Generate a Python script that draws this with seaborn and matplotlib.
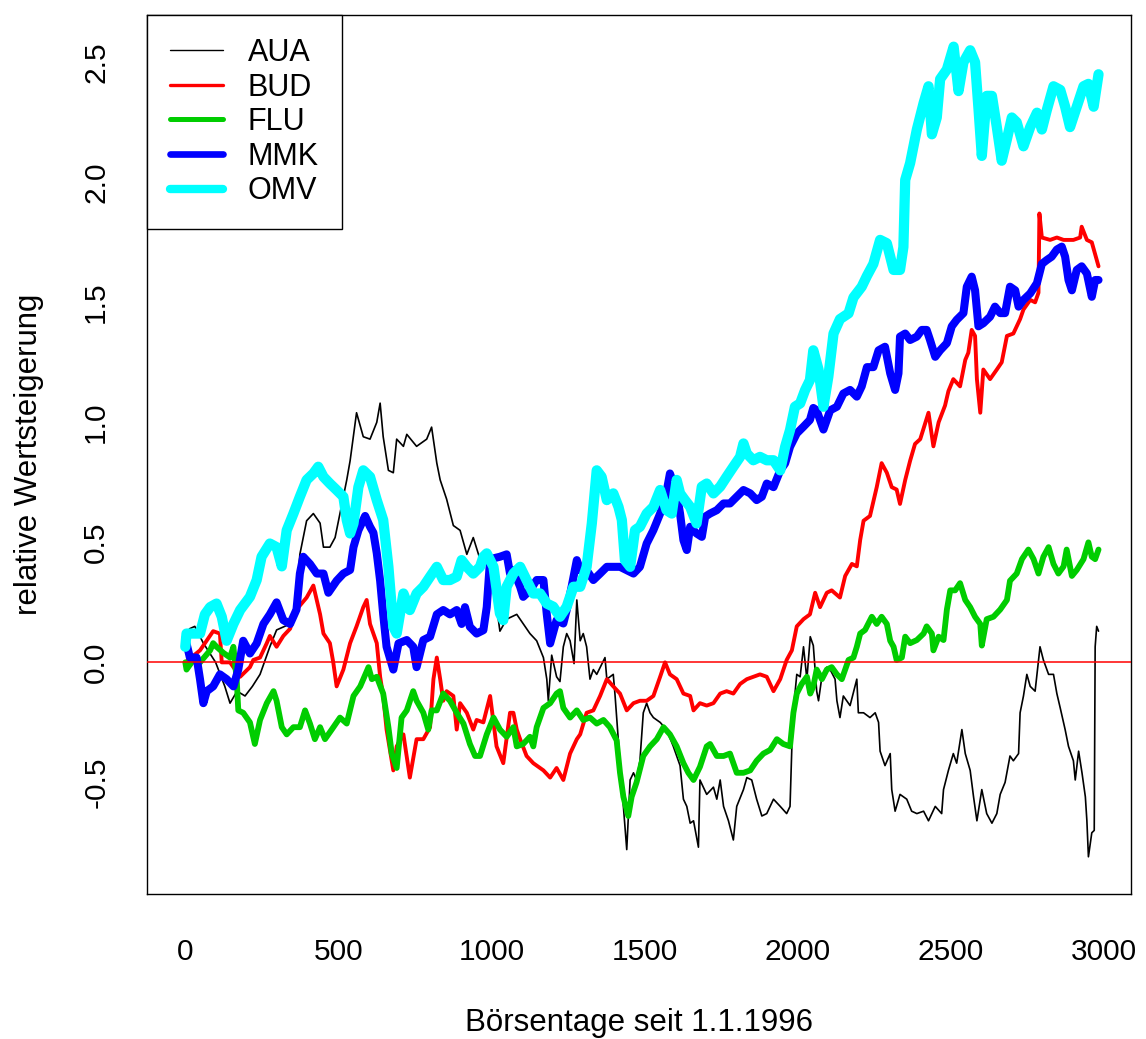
import matplotlib
matplotlib.use("Agg")
import matplotlib.pyplot as plt
import seaborn as sns
import pandas as pd

# ---------------- data ----------------
series_names = ["AUA", "BUD", "FLU", "MMK", "OMV"]

aua_days = [1, 15, 32, 60, 100, 130, 147, 170, 196, 220, 245, 277, 299, 343, 364, 375, 397, 419, 441, 452, 473, 490, 528, 539, 560, 582, 604, 626, 637, 647, 664, 680, 691, 713, 724, 756, 789, 805, 822, 833, 854, 876, 898, 920, 941, 963, 985, 1010, 1028, 1050, 1083, 1110, 1126, 1148, 1170, 1181, 1186, 1197, 1213, 1224, 1235, 1246, 1257, 1270, 1279, 1290, 1300, 1311, 1322, 1333, 1344, 1371, 1377, 1398, 1404, 1420, 1431, 1442, 1453, 1464, 1474, 1485, 1496, 1507, 1518, 1529, 1551, 1572, 1594, 1616, 1627, 1638, 1649, 1660, 1676, 1681, 1703, 1725, 1736, 1747, 1758, 1774, 1790, 1801, 1823, 1834, 1850, 1866, 1883, 1899, 1921, 1943, 1964, 1975, 1981, 1986, 1997, 2008, 2019, 2030, 2041, 2051, 2062, 2068, 2079, 2095, 2106, 2122, 2128, 2138, 2149, 2171, 2193, 2198, 2215, 2236, 2253, 2264, 2269, 2285, 2302, 2307, 2318, 2334, 2356, 2372, 2389, 2411, 2427, 2449, 2470, 2476, 2492, 2508, 2519, 2536, 2547, 2563, 2574, 2585, 2601, 2617, 2634, 2650, 2661, 2677, 2693, 2704, 2721, 2726, 2737, 2748, 2759, 2775, 2791, 2802, 2819, 2835, 2846, 2857, 2873, 2884, 2900, 2906, 2917, 2928, 2939, 2944, 2949, 2960, 2968, 2971, 2976, 2982]
aua_vals = [0.05, 0.14, 0.15, 0.08, 0.0, -0.10, -0.17, -0.12, -0.14, -0.10, -0.05, 0.065, 0.135, 0.16, 0.27, 0.45, 0.59, 0.62, 0.58, 0.48, 0.48, 0.52, 0.76, 0.84, 1.04, 0.94, 0.93, 1.0, 1.08, 0.94, 0.80, 0.79, 0.93, 0.90, 0.95, 0.90, 0.93, 0.98, 0.83, 0.76, 0.68, 0.57, 0.55, 0.45, 0.52, 0.43, 0.45, 0.30, 0.13, 0.18, 0.20, 0.15, 0.12, 0.09, 0.02, -0.07, -0.16, 0.03, -0.06, -0.08, 0.065, 0.12, 0.09, -0.005, 0.26, 0.09, 0.12, 0.065, -0.07, -0.03, -0.05, 0.02, -0.07, -0.05, -0.14, -0.42, -0.60, -0.78, -0.49, -0.46, -0.49, -0.41, -0.21, -0.17, -0.21, -0.23, -0.25, -0.28, -0.35, -0.43, -0.57, -0.60, -0.67, -0.66, -0.77, -0.49, -0.55, -0.52, -0.57, -0.49, -0.60, -0.66, -0.74, -0.60, -0.53, -0.48, -0.49, -0.57, -0.64, -0.63, -0.57, -0.60, -0.63, -0.60, -0.35, -0.20, -0.05, -0.06, 0.065, -0.07, 0.107, 0.07, -0.12, -0.16, -0.06, -0.02, -0.03, -0.07, -0.16, -0.23, -0.14, -0.18, -0.07, -0.21, -0.21, -0.23, -0.21, -0.25, -0.37, -0.43, -0.38, -0.53, -0.62, -0.55, -0.57, -0.62, -0.63, -0.62, -0.66, -0.60, -0.63, -0.53, -0.45, -0.38, -0.42, -0.28, -0.38, -0.45, -0.56, -0.66, -0.53, -0.63, -0.67, -0.63, -0.55, -0.50, -0.39, -0.41, -0.38, -0.21, -0.14, -0.05, -0.10, -0.12, 0.065, 0.01, -0.05, -0.05, -0.13, -0.19, -0.28, -0.35, -0.41, -0.49, -0.37, -0.46, -0.56, -0.66, -0.81, -0.71, -0.70, 0.065, 0.15, 0.13]

bud_days = [1, 49, 92, 114, 120, 147, 180, 212, 223, 245, 267, 277, 299, 321, 343, 364, 397, 419, 430, 441, 452, 473, 484, 495, 517, 539, 560, 582, 593, 604, 626, 637, 647, 658, 680, 691, 713, 734, 756, 778, 800, 811, 822, 833, 843, 854, 876, 887, 898, 920, 941, 952, 974, 996, 1017, 1039, 1061, 1072, 1083, 1094, 1115, 1137, 1170, 1192, 1213, 1235, 1257, 1279, 1290, 1311, 1333, 1355, 1377, 1398, 1420, 1442, 1464, 1485, 1507, 1529, 1551, 1567, 1583, 1605, 1627, 1649, 1660, 1681, 1703, 1725, 1747, 1768, 1790, 1812, 1834, 1855, 1877, 1899, 1921, 1943, 1964, 1981, 1997, 2019, 2040, 2057, 2073, 2095, 2111, 2138, 2155, 2177, 2193, 2204, 2215, 2236, 2258, 2274, 2291, 2307, 2323, 2334, 2351, 2367, 2383, 2400, 2416, 2427, 2443, 2460, 2481, 2492, 2508, 2530, 2547, 2557, 2568, 2579, 2585, 2596, 2606, 2628, 2650, 2666, 2683, 2704, 2726, 2737, 2759, 2775, 2786, 2789, 2797, 2824, 2846, 2868, 2900, 2922, 2927, 2944, 2960, 2971, 2982]
bud_vals = [0.0, 0.05, 0.13, 0.12, 0.0, 0.0, -0.06, -0.02, 0.01, 0.02, 0.08, 0.11, 0.065, 0.11, 0.14, 0.22, 0.27, 0.32, 0.26, 0.20, 0.12, 0.08, 0.0, -0.10, -0.03, 0.08, 0.15, 0.23, 0.26, 0.16, 0.08, -0.06, -0.14, -0.28, -0.45, -0.35, -0.30, -0.48, -0.32, -0.32, -0.27, -0.07, 0.02, -0.07, -0.16, -0.12, -0.14, -0.28, -0.17, -0.21, -0.28, -0.24, -0.25, -0.14, -0.35, -0.42, -0.21, -0.21, -0.28, -0.32, -0.39, -0.42, -0.45, -0.48, -0.44, -0.49, -0.38, -0.32, -0.30, -0.21, -0.20, -0.14, -0.07, -0.10, -0.13, -0.20, -0.17, -0.16, -0.16, -0.14, -0.06, 0.0, -0.05, -0.07, -0.13, -0.14, -0.20, -0.17, -0.18, -0.17, -0.13, -0.12, -0.13, -0.09, -0.07, -0.06, -0.05, -0.06, -0.12, -0.07, 0.01, 0.05, 0.15, 0.18, 0.20, 0.29, 0.23, 0.29, 0.30, 0.27, 0.36, 0.41, 0.40, 0.51, 0.59, 0.61, 0.73, 0.83, 0.79, 0.73, 0.72, 0.66, 0.76, 0.84, 0.91, 0.93, 0.995, 1.04, 0.90, 1.00, 1.07, 1.13, 1.18, 1.15, 1.26, 1.29, 1.385, 1.36, 1.18, 1.04, 1.22, 1.18, 1.22, 1.25, 1.36, 1.37, 1.43, 1.47, 1.51, 1.50, 1.54, 1.87, 1.77, 1.76, 1.77, 1.76, 1.76, 1.77, 1.815, 1.76, 1.75, 1.70, 1.65]

flu_days = [1, 5, 27, 49, 82, 92, 103, 125, 147, 158, 169, 174, 190, 212, 228, 245, 267, 289, 299, 316, 332, 354, 375, 392, 408, 424, 441, 457, 479, 506, 528, 550, 572, 599, 610, 626, 647, 664, 675, 691, 707, 724, 745, 756, 778, 794, 805, 822, 843, 865, 887, 909, 930, 947, 963, 985, 1007, 1028, 1050, 1072, 1083, 1104, 1126, 1137, 1148, 1170, 1192, 1213, 1224, 1235, 1257, 1279, 1300, 1322, 1344, 1366, 1387, 1409, 1420, 1431, 1447, 1458, 1474, 1496, 1518, 1540, 1562, 1583, 1605, 1627, 1643, 1660, 1681, 1703, 1714, 1736, 1758, 1779, 1801, 1823, 1845, 1866, 1888, 1910, 1932, 1953, 1975, 1986, 1997, 2013, 2030, 2041, 2051, 2062, 2079, 2095, 2111, 2128, 2144, 2155, 2166, 2182, 2193, 2204, 2220, 2242, 2258, 2274, 2291, 2302, 2313, 2323, 2340, 2351, 2367, 2389, 2411, 2421, 2438, 2443, 2460, 2476, 2487, 2498, 2514, 2530, 2547, 2563, 2579, 2596, 2601, 2617, 2639, 2661, 2683, 2693, 2715, 2732, 2753, 2770, 2786, 2802, 2819, 2835, 2851, 2868, 2878, 2895, 2911, 2933, 2949, 2960, 2971, 2982]
flu_vals = [0.0, -0.03, 0.01, 0.0, 0.05, 0.08, 0.065, 0.04, 0.02, 0.065, -0.075, -0.20, -0.21, -0.25, -0.34, -0.24, -0.17, -0.12, -0.16, -0.27, -0.30, -0.27, -0.27, -0.20, -0.255, -0.32, -0.27, -0.32, -0.28, -0.23, -0.255, -0.14, -0.10, -0.02, -0.07, -0.06, -0.13, -0.27, -0.38, -0.44, -0.23, -0.20, -0.12, -0.16, -0.21, -0.28, -0.20, -0.20, -0.13, -0.16, -0.21, -0.255, -0.34, -0.39, -0.39, -0.30, -0.23, -0.28, -0.31, -0.27, -0.35, -0.34, -0.31, -0.35, -0.27, -0.19, -0.17, -0.13, -0.12, -0.19, -0.23, -0.20, -0.24, -0.23, -0.255, -0.24, -0.27, -0.325, -0.46, -0.56, -0.64, -0.56, -0.50, -0.39, -0.35, -0.32, -0.27, -0.30, -0.35, -0.42, -0.46, -0.49, -0.435, -0.35, -0.34, -0.39, -0.39, -0.38, -0.46, -0.46, -0.45, -0.41, -0.38, -0.365, -0.32, -0.34, -0.35, -0.21, -0.13, -0.09, -0.06, -0.13, -0.10, -0.03, -0.07, -0.03, -0.02, -0.05, -0.07, -0.03, 0.01, 0.02, 0.065, 0.12, 0.135, 0.19, 0.16, 0.19, 0.16, 0.09, 0.065, 0.01, 0.02, 0.107, 0.08, 0.093, 0.12, 0.15, 0.12, 0.05, 0.107, 0.093, 0.22, 0.30, 0.30, 0.33, 0.26, 0.23, 0.19, 0.16, 0.07, 0.18, 0.19, 0.22, 0.26, 0.34, 0.37, 0.43, 0.47, 0.43, 0.37, 0.44, 0.48, 0.41, 0.37, 0.40, 0.47, 0.36, 0.385, 0.43, 0.50, 0.44, 0.43, 0.47]

mmk_days = [1, 16, 38, 49, 60, 71, 92, 114, 136, 158, 174, 190, 212, 234, 256, 277, 299, 321, 343, 364, 375, 386, 408, 430, 452, 468, 495, 517, 539, 550, 566, 588, 604, 615, 626, 637, 647, 658, 680, 697, 724, 745, 756, 778, 800, 822, 843, 865, 887, 903, 914, 930, 952, 974, 985, 996, 1028, 1050, 1061, 1072, 1094, 1104, 1126, 1148, 1170, 1181, 1192, 1213, 1235, 1246, 1262, 1279, 1290, 1311, 1333, 1355, 1377, 1398, 1420, 1442, 1464, 1485, 1507, 1529, 1551, 1567, 1583, 1605, 1616, 1627, 1638, 1649, 1670, 1687, 1698, 1714, 1736, 1758, 1779, 1801, 1823, 1845, 1866, 1883, 1899, 1921, 1943, 1959, 1975, 1997, 2019, 2040, 2051, 2062, 2073, 2084, 2106, 2128, 2149, 2171, 2193, 2209, 2226, 2247, 2264, 2285, 2302, 2318, 2329, 2334, 2351, 2367, 2389, 2405, 2421, 2432, 2449, 2465, 2487, 2503, 2519, 2541, 2552, 2568, 2579, 2590, 2606, 2628, 2644, 2661, 2677, 2693, 2710, 2721, 2737, 2759, 2781, 2797, 2813, 2829, 2846, 2862, 2873, 2884, 2895, 2911, 2927, 2944, 2960, 2971, 2982]
mmk_vals = [0.10, 0.02, 0.02, -0.07, -0.17, -0.12, -0.10, -0.05, -0.07, -0.10, -0.03, 0.09, 0.037, 0.079, 0.16, 0.20, 0.25, 0.176, 0.16, 0.22, 0.37, 0.44, 0.41, 0.37, 0.37, 0.29, 0.34, 0.37, 0.385, 0.48, 0.55, 0.61, 0.565, 0.54, 0.455, 0.34, 0.20, 0.065, -0.03, 0.079, 0.093, 0.065, -0.02, 0.093, 0.107, 0.20, 0.218, 0.20, 0.218, 0.16, 0.23, 0.148, 0.12, 0.134, 0.23, 0.43, 0.44, 0.45, 0.37, 0.384, 0.315, 0.273, 0.30, 0.343, 0.343, 0.20, 0.079, 0.176, 0.162, 0.218, 0.315, 0.426, 0.384, 0.384, 0.343, 0.37, 0.398, 0.398, 0.398, 0.384, 0.37, 0.398, 0.495, 0.551, 0.62, 0.676, 0.787, 0.704, 0.62, 0.509, 0.468, 0.565, 0.537, 0.523, 0.607, 0.62, 0.634, 0.662, 0.662, 0.69, 0.718, 0.704, 0.676, 0.69, 0.745, 0.73, 0.80, 0.829, 0.898, 0.954, 0.982, 1.01, 1.06, 1.05, 1.01, 0.97, 1.05, 1.065, 1.12, 1.135, 1.107, 1.15, 1.23, 1.23, 1.30, 1.315, 1.204, 1.135, 1.204, 1.357, 1.37, 1.343, 1.357, 1.385, 1.385, 1.343, 1.273, 1.30, 1.33, 1.40, 1.427, 1.455, 1.565, 1.607, 1.55, 1.40, 1.413, 1.44, 1.482, 1.455, 1.455, 1.565, 1.55, 1.482, 1.51, 1.537, 1.58, 1.66, 1.676, 1.69, 1.72, 1.732, 1.69, 1.593, 1.55, 1.635, 1.65, 1.62, 1.523, 1.593, 1.593]

omv_days = [1, 5, 27, 49, 65, 82, 103, 120, 136, 158, 180, 212, 234, 250, 277, 299, 316, 332, 354, 375, 397, 419, 435, 452, 473, 495, 517, 528, 539, 550, 566, 582, 604, 626, 647, 664, 680, 691, 713, 734, 756, 778, 800, 822, 843, 865, 887, 903, 920, 941, 963, 974, 985, 1007, 1028, 1039, 1050, 1072, 1094, 1115, 1137, 1159, 1181, 1202, 1224, 1246, 1268, 1290, 1311, 1328, 1344, 1360, 1377, 1398, 1415, 1426, 1436, 1453, 1469, 1485, 1507, 1529, 1551, 1572, 1589, 1605, 1616, 1632, 1649, 1670, 1687, 1703, 1725, 1747, 1768, 1790, 1812, 1823, 1834, 1855, 1877, 1899, 1921, 1943, 1959, 1975, 1991, 2008, 2024, 2040, 2051, 2068, 2084, 2100, 2117, 2138, 2166, 2182, 2209, 2226, 2247, 2269, 2291, 2313, 2334, 2345, 2351, 2367, 2389, 2411, 2427, 2438, 2454, 2465, 2487, 2509, 2525, 2541, 2563, 2579, 2590, 2601, 2617, 2634, 2650, 2666, 2683, 2699, 2715, 2737, 2759, 2781, 2797, 2813, 2835, 2857, 2873, 2889, 2911, 2933, 2949, 2966, 2982]
omv_vals = [0.065, 0.12, 0.12, 0.12, 0.20, 0.23, 0.245, 0.19, 0.09, 0.16, 0.218, 0.273, 0.343, 0.44, 0.495, 0.48, 0.40, 0.55, 0.62, 0.69, 0.76, 0.787, 0.815, 0.773, 0.745, 0.718, 0.69, 0.593, 0.537, 0.579, 0.73, 0.80, 0.773, 0.676, 0.593, 0.398, 0.148, 0.12, 0.287, 0.218, 0.287, 0.315, 0.357, 0.398, 0.343, 0.343, 0.357, 0.426, 0.398, 0.37, 0.398, 0.44, 0.454, 0.398, 0.204, 0.176, 0.315, 0.37, 0.398, 0.343, 0.287, 0.287, 0.245, 0.232, 0.19, 0.232, 0.315, 0.315, 0.398, 0.579, 0.80, 0.773, 0.676, 0.704, 0.648, 0.593, 0.426, 0.398, 0.551, 0.565, 0.62, 0.648, 0.718, 0.634, 0.62, 0.76, 0.704, 0.676, 0.648, 0.579, 0.732, 0.745, 0.704, 0.732, 0.773, 0.815, 0.856, 0.912, 0.87, 0.842, 0.856, 0.842, 0.842, 0.80, 0.898, 0.968, 1.065, 1.079, 1.134, 1.176, 1.30, 1.22, 1.065, 1.19, 1.37, 1.43, 1.454, 1.52, 1.565, 1.61, 1.66, 1.76, 1.746, 1.635, 1.635, 1.73, 2.01, 2.08, 2.22, 2.33, 2.40, 2.20, 2.27, 2.43, 2.47, 2.565, 2.38, 2.50, 2.55, 2.50, 2.31, 2.11, 2.36, 2.36, 2.23, 2.09, 2.18, 2.27, 2.25, 2.15, 2.23, 2.29, 2.22, 2.30, 2.40, 2.385, 2.315, 2.23, 2.315, 2.40, 2.41, 2.315, 2.45]

x_ticks = [0, 500, 1000, 1500, 2000, 2500, 3000]
y_ticks = [-0.5, 0.0, 0.5, 1.0, 1.5, 2.0, 2.5]
y_tick_labels = ["-0.5", "0.0", "0.5", "1.0", "1.5", "2.0", "2.5"]
x_label = "Börsentage seit 1.1.1996"
y_label = "relative Wertsteigerung"

# ---------------- styling ----------------
colors = ["#000000", "#FF0000", "#00CD00", "#0000FF", "#00FFFF"]
widths = [1.2, 2.8, 4.2, 5.8, 7.4]
legend_widths = [1.0, 2.4, 3.6, 4.8, 6.0]

sns.set_style("white")
plt.rcParams["font.family"] = ["Liberation Sans", "DejaVu Sans"]
plt.rcParams["text.color"] = "black"
plt.rcParams["axes.labelcolor"] = "black"

fig = plt.figure(figsize=(11.46, 10.39), dpi=100)
ax = fig.add_axes([147 / 1146, 1 - 894 / 1039, (1131 - 147) / 1146, (894 - 15) / 1039])

all_days = [aua_days, bud_days, flu_days, mmk_days, omv_days]
all_vals = [aua_vals, bud_vals, flu_vals, mmk_vals, omv_vals]

for name, d, v, c, w in zip(series_names, all_days, all_vals, colors, widths):
    df = pd.DataFrame({"day": d, "value": v})
    sns.lineplot(data=df, x="day", y="value", ax=ax, color=c, linewidth=w,
                 label=name, estimator=None, sort=False,
                 solid_joinstyle="round", solid_capstyle="round")

ax.axhline(0, color="#FF0000", linewidth=1.1, zorder=10)

ax.set_xlim(-124, 3088)
ax.set_ylim(-0.965, 2.697)
ax.set_xticks(x_ticks)
ax.set_xticklabels([str(t) for t in x_ticks])
ax.set_yticks(y_ticks)
ax.set_yticklabels(y_tick_labels)

for s in ax.spines.values():
    s.set_visible(True)
    s.set_color("black")
    s.set_linewidth(1.0)

ax.tick_params(axis="both", which="major", direction="out", length=13.5,
               width=1.0, color="black", labelsize=21.5, labelcolor="black")
ax.tick_params(axis="x", pad=18)
ax.tick_params(axis="y", pad=13, labelrotation=90)
for lbl in ax.get_yticklabels():
    lbl.set_verticalalignment("center")

ax.set_xlabel(x_label, fontsize=22.5, color="black")
ax.set_ylabel(y_label, fontsize=22.5, color="black")
ax.xaxis.set_label_coords(0.5, (894 - 1008) / 879)
ax.yaxis.set_label_coords((44 - 147) / 984, 0.5)

leg = ax.legend(loc="upper left", bbox_to_anchor=(0, 1), borderaxespad=0,
                fancybox=False, frameon=True, edgecolor="black", framealpha=1,
                fontsize=22, handlelength=1.75, handletextpad=0.8,
                labelspacing=0.15, borderpad=0.75)
leg.get_frame().set_linewidth(1.0)
for txt in leg.get_texts():
    txt.set_color("black")
for line, w in zip(leg.get_lines(), legend_widths):
    line.set_linewidth(w)

fig.savefig("out.png", dpi=100)
